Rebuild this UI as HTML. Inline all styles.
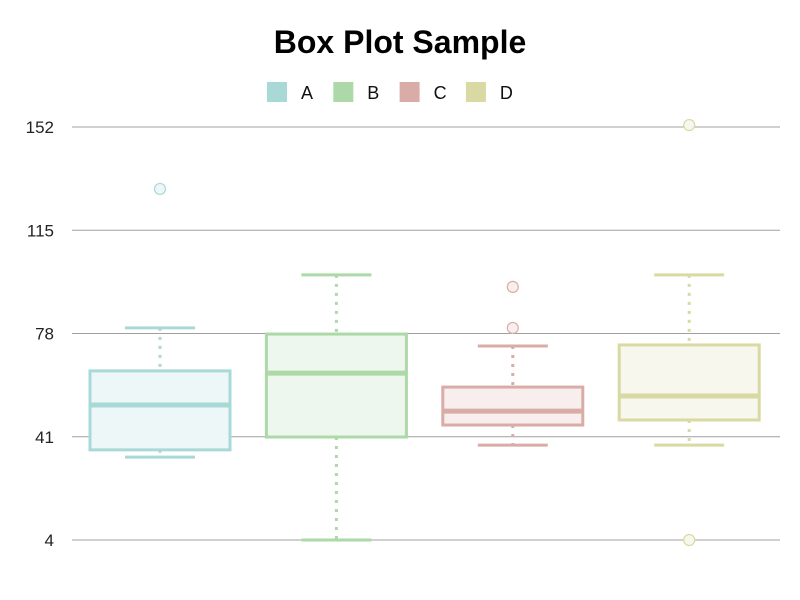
<!DOCTYPE html>
<html><head><meta charset="utf-8"><style>
html,body{margin:0;padding:0;background:#fff;width:800px;height:600px;overflow:hidden}
svg text{font-family:"Liberation Sans",Arial,sans-serif}
</style></head><body>
<svg id="chart" width="800" height="600">
<text x="400" y="53" text-anchor="middle" font-size="32" font-weight="bold" fill="#000">Box Plot Sample</text>
<g id="legend"></g>
<g id="grid"></g>
<g id="boxes"></g>
</svg>
<script>
const categories = ["A","B","C","D"];
const lows = [33.7, 4, 38, 38];
const q1s = [36.3, 40.9, 45.2, 47];
const medians = [52.4, 63.8, 50.2, 55.6];
const q3s = [64.6, 77.8, 58.8, 73.9];
const highs = [80, 99, 73.5, 99];
const outliers = [[129.8], [], [94.7, 80], [152.7, 4]];
const ticks = [4, 41, 78, 115, 152];
const strokes = ["#a8d9d7","#acd9a7","#d9aca7","#d9d9a3"];
const fills = ["#eef7f7","#eef7ee","#f8eeee","#f7f7ee"];

const NS="http://www.w3.org/2000/svg";
const yMin=4,yMax=152,yBot=540,yTop=127,xL=72,xR=780;
const y=v=>yBot-(v-yMin)/(yMax-yMin)*(yBot-yTop);
const xc=i=>160+176.4*i;
function mk(tag,attrs,parent){const e=document.createElementNS(NS,tag);for(const k in attrs)e.setAttribute(k,attrs[k]);parent.appendChild(e);return e;}

const grid=document.getElementById('grid');
ticks.forEach(t=>{
  const l=mk('line',{x1:xL,x2:xR,y1:y(t),y2:y(t),stroke:'#a0a0a0','stroke-width':1},grid);
  
  
  const tx=mk('text',{x:54,y:y(t)+6,'text-anchor':'end','font-size':17,fill:'#222'},grid);
  tx.textContent=t;
  
  
});

const lg=document.getElementById('legend');
categories.forEach((c,i)=>{
  const x0=267+i*66.3;
  const r=mk('rect',{x:x0,y:82,width:20,height:20,fill:strokes[i]},lg);
  
  
  const t=mk('text',{x:x0+34,y:99,'font-size':18,fill:'#111'},lg);
  t.textContent=c;
  
  
});

const bx=document.getElementById('boxes');
const bw=140;
categories.forEach((c,i)=>{
  const g=mk('g',{},bx);
  
  
  const cx=xc(i),col=strokes[i];
  mk('line',{x1:cx,x2:cx,y1:y(highs[i]),y2:y(q3s[i]),stroke:col,'stroke-width':3,'stroke-dasharray':'3 6'},g);
  mk('line',{x1:cx,x2:cx,y1:y(q1s[i]),y2:y(lows[i]),stroke:col,'stroke-width':3,'stroke-dasharray':'3 6'},g);
  mk('line',{x1:cx-bw/4,x2:cx+bw/4,y1:y(highs[i]),y2:y(highs[i]),stroke:col,'stroke-width':3},g);
  mk('line',{x1:cx-bw/4,x2:cx+bw/4,y1:y(lows[i]),y2:y(lows[i]),stroke:col,'stroke-width':3},g);
  mk('rect',{x:cx-bw/2,y:y(q3s[i]),width:bw,height:y(q1s[i])-y(q3s[i]),fill:fills[i],stroke:col,'stroke-width':3},g);
  mk('line',{x1:cx-bw/2,x2:cx+bw/2,y1:y(medians[i]),y2:y(medians[i]),stroke:col,'stroke-width':5},g);
  outliers[i].forEach(v=>{
    const o=mk('circle',{cx:cx,cy:y(v),r:5.5,fill:fills[i],stroke:col,'stroke-width':1.2},g);
    
    
  });
});
</script>
</body></html>
